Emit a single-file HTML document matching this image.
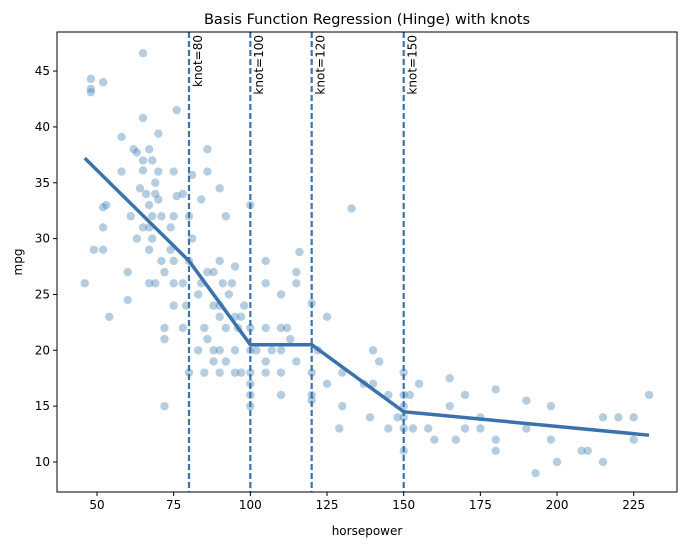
<!DOCTYPE html>
<html><head><meta charset="utf-8"><style>
body{margin:0;background:#fff;font-family:"Liberation Sans","DejaVu Sans",sans-serif;}
svg text{font-family:"DejaVu Sans","Liberation Sans",sans-serif;}
</style></head><body>
<svg id="chart" width="686" height="547" xmlns="http://www.w3.org/2000/svg">
<text x="367" y="24" text-anchor="middle" font-size="14.5">Basis Function Regression (Hinge) with knots</text>
<text x="367" y="535" text-anchor="middle" font-size="12">horsepower</text>
<text x="22" y="262" text-anchor="middle" font-size="12" transform="rotate(-90 22 262)">mpg</text>
<g id="plot"></g>
</svg>
<script>
const xTicks=[50,75,100,125,150,175,200,225];
const yTicks=[10,15,20,25,30,35,40,45];
const knots=[80,100,120,150];
const fitX=[46,80,100,120,150,230];
const fitY=[37.2,28,20.5,20.5,14.5,12.4];
const points=[[46,26],[48,43.1],[48,43.4],[48,44.3],[49,29],[52,29],[52,44],[52,31],[52,32.8],[53,33],[54,23],[58,36],[58,39.1],[60,24.5],[60,27],[61,32],[62,38],[63,30],[63,37.7],[64,34.5],[65,46.6],[65,40.8],[65,31],[65,36.1],[65,37],[66,34],[67,33],[67,31],[67,38],[67,29],[67,26],[68,37],[68,30],[68,32],[69,35],[69,34],[69,26],[70,33.5],[70,39.4],[70,36],[71,32],[71,28],[72,22],[72,21],[72,15],[72,27],[74,31],[74,29],[75,26],[75,28],[75,36],[75,24],[75,32],[76,33.8],[76,41.5],[78,22],[78,26],[78,34],[79,24],[80,28],[80,18],[80,32],[81,35.7],[81,30],[83,25],[83,20],[84,33.5],[84,26],[85,22],[85,18],[86,36],[86,38],[86,27],[86,21],[88,27],[88,20],[88,24],[88,19],[90,28],[90,23],[90,20],[90,18],[90,24],[90,34.5],[91,26],[92,32],[92,22],[92,19],[93,25],[94,26],[95,23],[95,27.5],[95,20],[95,18],[96,22],[97,23],[97,18],[98,24],[100,33],[100,18],[100,17],[100,16],[100,15],[100,22],[100,20],[102,20],[105,19],[105,28],[105,26],[105,22],[105,18],[107,20],[110,25],[110,22],[110,18],[110,16],[110,20],[112,22],[113,21],[115,27],[115,26],[115,19],[116,28.8],[120,24.2],[120,18],[120,16],[120,15.5],[122,20],[125,23],[125,17],[129,13],[130,18],[130,15],[133,32.7],[137,17],[139,14],[140,20],[140,17],[142,19],[145,16],[145,13],[148,14],[150,18],[150,16],[150,15],[150,14],[150,13],[150,11],[152,16],[153,13],[155,17],[158,13],[160,12],[165,17.5],[165,15],[167,12],[170,16],[170,13],[175,14],[175,13],[180,16.5],[180,12],[180,11],[190,15.5],[190,13],[193,9],[198,15],[198,12],[200,10],[208,11],[210,11],[215,14],[215,10],[220,14],[225,14],[225,12],[230,16]];
const L=57,R=677,T=32,B=492;
const sx=h=>97+(h-50)*3.067;
const sy=m=>462-(m-10)*11.17;
const NS="http://www.w3.org/2000/svg";
const g=document.getElementById('plot');
function mk(t,a,p){const e=document.createElementNS(NS,t);for(const k in a)e.setAttribute(k,a[k]);(p||g).appendChild(e);return e;}
points.forEach(p=>{const c=mk('circle',{cx:sx(p[0]),cy:sy(p[1]),r:4.2,fill:'#4682b4','fill-opacity':0.4});

});
knots.forEach(k=>{const l=mk('line',{x1:sx(k),x2:sx(k),y1:T,y2:B,stroke:'#3a72ad','stroke-width':2.2,'stroke-dasharray':'6,3'});


const t=mk('text',{x:0,y:0,'font-size':12,transform:`translate(${sx(k)+4},${T+3}) rotate(-90)`,'text-anchor':'end','dominant-baseline':'hanging'});t.textContent='knot='+k;

});
const fl=mk('polyline',{points:fitX.map((x,i)=>sx(x)+','+sy(fitY[i])).join(' '),fill:'none',stroke:'#3a72ad','stroke-width':3.5,'stroke-linejoin':'round'});


const fr=mk('rect',{x:L,y:T,width:R-L,height:B-T,fill:'none',stroke:'#000','stroke-width':1});


xTicks.forEach(v=>{mk('line',{x1:sx(v),x2:sx(v),y1:B,y2:B+4,stroke:'#000'});
const t=mk('text',{x:sx(v),y:B+17,'text-anchor':'middle','font-size':12});t.textContent=v;

});
yTicks.forEach(v=>{mk('line',{x1:L-4,x2:L,y1:sy(v),y2:sy(v),stroke:'#000'});
const t=mk('text',{x:L-7,y:sy(v)+4,'text-anchor':'end','font-size':12});t.textContent=v;

});
</script>
</body></html>
